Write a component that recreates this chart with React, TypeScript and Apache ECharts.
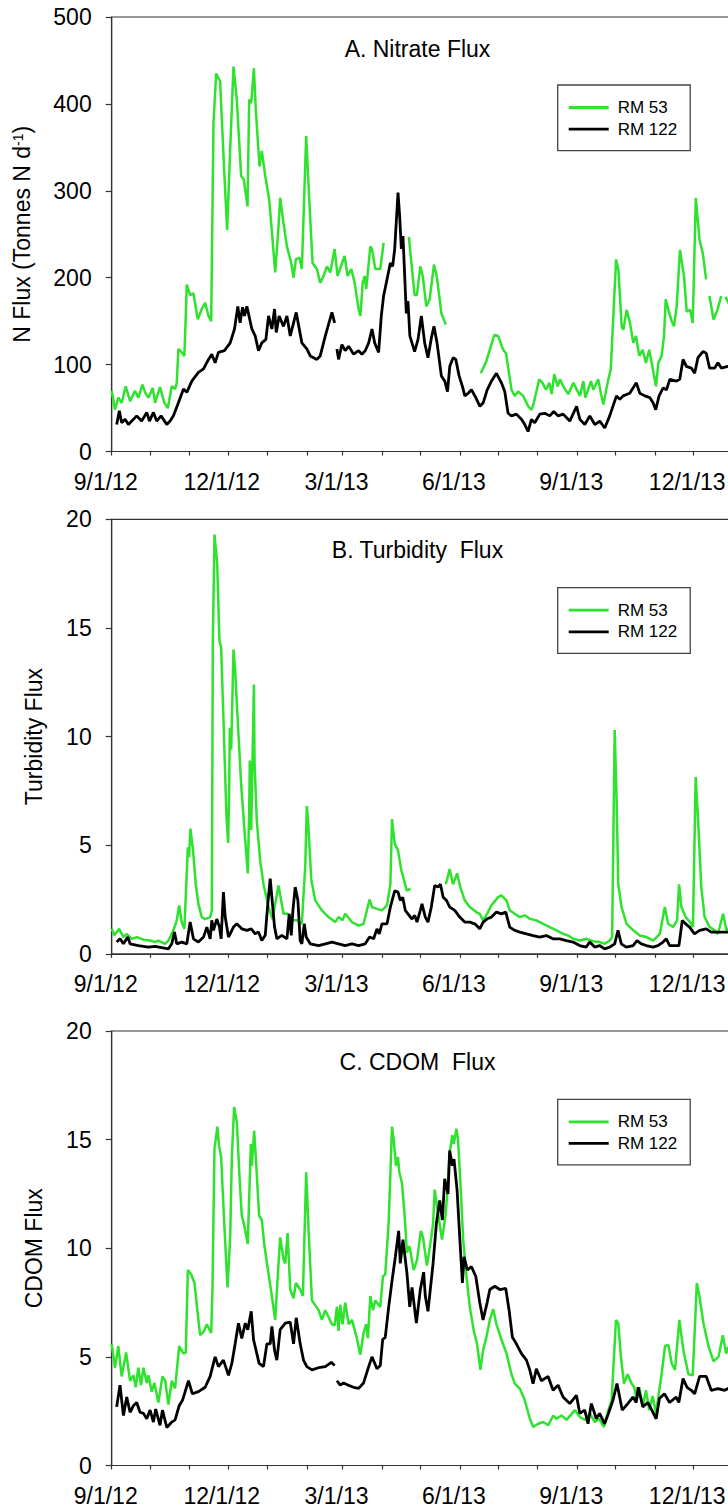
import React, { useEffect, useRef } from 'react';
import * as echarts from 'echarts';

const FONT = "'Liberation Sans', Arial, Helvetica, sans-serif";
const GREEN = '#2ee22e';
const BLACK = '#000000';
const AXIS = '#333333';

// days since 9/1/12
const X_LABEL_DAYS = [0, 91, 181, 273, 365, 456];
const X_LABELS = ['9/1/12', '12/1/12', '3/1/13', '6/1/13', '9/1/13', '12/1/13'];
const MONTH_TICK_DAYS = [0, 30, 61, 91, 122, 153, 181, 212, 242, 273, 303, 334, 365, 395, 426, 456, 487];

const SERIES_NAMES = ['RM 53', 'RM 122'];
const PANEL_TITLES = ['A. Nitrate Flux', 'B. Turbidity  Flux', 'C. CDOM  Flux'];
const Y_TITLES = ['N Flux (Tonnes N d{sup|-1})', 'Turbidity Flux', 'CDOM Flux'];
const Y_MAX = [500, 20, 20];
const Y_STEP = [100, 5, 5];

type P = [number, number | null];

// A. Nitrate flux
const N_RM53: P[] = [
  [0, 70], [2.6, 48], [5.2, 62], [7.8, 56], [11, 75], [14.4, 58], [18.3, 70], [20.9, 62], [24.1, 77], [26.2, 68],
  [28.8, 62], [32.2, 73], [34, 56], [37.9, 74], [41.3, 56], [44, 50], [47.1, 75], [49.7, 72], [51, 79], [52.3, 118],
  [55, 114], [57, 110], [58.9, 192], [61.5, 180], [64.1, 182], [67.5, 152], [70.6, 164], [73.3, 171], [75.9, 156], [78, 150],
  [79.8, 378], [81.9, 435], [85, 426], [88.4, 317], [90.5, 255], [92.9, 348], [95.5, 443], [98.1, 405], [101.5, 317], [103.6, 313],
  [106.5, 282], [107.8, 405], [109.4, 401], [111.5, 441], [113, 393], [115.9, 328], [117.7, 346], [120.4, 317], [123.5, 290], [126.1, 244],
  [128.2, 206], [130.8, 259], [132.1, 292], [134.7, 263], [137.4, 236], [140.8, 217], [142.6, 200], [144.4, 221], [147.3, 223], [149.1, 210],
  [152.5, 363], [154.9, 290], [157.5, 217], [160.9, 210], [163.5, 194], [166.1, 202], [168.8, 213], [171.4, 206], [174.8, 233], [177.1, 202],
  [182.6, 225], [185, 202], [187.9, 210], [190.5, 194], [193.6, 164], [195, 156], [196.8, 194], [198.3, 202], [199.6, 187], [202.8, 236],
  [204.1, 233], [206.7, 210], [210.6, 210], [213.2, 240], [222, null],
  [233, 247], [237.5, 180], [239.3, 180], [242, 213], [244, 201], [246.7, 167], [249.3, 175], [252.7, 215], [255, 201], [258.5, 159],
  [262, 146], [275, null],
  [289.4, 90], [293.3, 102], [295, 110], [300, 134], [303, 133], [307, 117], [309.2, 113], [313.5, 71], [316, 64], [318.7, 69],
  [322.6, 64], [326.6, 52], [329.2, 48], [331, 56], [335.2, 83], [337.8, 79], [340.5, 71], [343.1, 79], [345, 66], [347, 89],
  [349.7, 75], [351.5, 83], [354.1, 75], [358, 66], [362, 79], [367.2, 64], [369.8, 81], [371.4, 62], [375.8, 81], [377.6, 71],
  [381.5, 83], [383.6, 67], [385.5, 54], [389.4, 83], [391.3, 94], [395.5, 221], [397.3, 209], [399.9, 144], [401.2, 140], [403.8, 163],
  [406.4, 148], [409, 125], [411.1, 133], [413.7, 110], [416.3, 117], [418.9, 102], [421.5, 117], [423.4, 102], [426.8, 75], [428.6, 102],
  [431.2, 110], [433.1, 133], [434.4, 175], [436.5, 163], [439.1, 150], [440.9, 144], [443, 167], [445.6, 232], [448.8, 201], [450.9, 161],
  [453.5, 163], [455.6, 148], [458, 292], [460.9, 244], [463.5, 228], [466.1, 198], [467.4, null],
  [468.7, 179], [471.9, 152], [475, 163], [477.9, 179], [479.6, null],
  [481.3, 178], [484, 170], [488, 165],
];
const N_RM122: P[] = [
  [3.9, 31], [6, 47], [7.8, 33], [10.5, 37], [13.1, 31], [17, 37], [19.6, 41], [23.5, 35], [27.5, 45], [29.6, 35],
  [32.7, 45], [35.3, 35], [38.7, 41], [43.2, 31], [45.8, 35], [48.4, 41], [52.3, 56], [56.3, 72], [58.9, 68], [62.8, 81],
  [68, 91], [72, 95], [75.9, 106], [78.5, 112], [81.1, 102], [83.7, 114], [88.4, 116], [92.9, 125], [96.3, 141], [98.9, 167],
  [100.7, 148], [102.6, 166], [104.1, 156], [106, 167], [109.9, 141], [112.5, 133], [115.1, 116], [117.7, 125], [120.9, 129], [123, 156],
  [125.6, 141], [127.7, 164], [129, 137], [131.3, 156], [134.7, 144], [137.4, 156], [140, 133], [144.7, 160], [149.1, 125], [153, 118],
  [155.7, 110], [160.9, 106], [163.5, 110], [167.5, 133], [172.7, 160], [174.8, 148], [175.6, null],
  [176.6, 118], [177.9, 106], [180.5, 123], [183.1, 116], [185.8, 121], [189.7, 112], [193.6, 116], [196.2, 112], [198.8, 116], [201.5, 125],
  [204.1, 141], [206.2, 125], [209.3, 114], [211.4, 156], [213.2, 179], [218.5, 217], [220.3, 213], [221.9, 233], [224.5, 298], [225.8, 271],
  [227.1, 233], [228.4, 248], [231, 159], [232.3, 173], [233.8, 133], [237.5, 115], [240.2, 129], [242.8, 156], [245.4, 125], [248, 108],
  [250.7, 131], [252.7, 144], [255.1, 125], [258.5, 87], [261.2, 81], [263.3, 69], [265.1, 98], [267.7, 108], [269.8, 106], [272.4, 87],
  [275, 75], [276.9, 64], [279.5, 67], [282.1, 71], [285.5, 62], [288.7, 52], [291.3, 56], [294.4, 71], [297.8, 81], [301.7, 90],
  [305.6, 79], [308.2, 69], [310.8, 44], [313.4, 41], [317.3, 43], [321.3, 37], [323.9, 31], [326.5, 23], [329.1, 37], [331.7, 33],
  [335.7, 43], [339.6, 44], [343.5, 41], [346.6, 46], [350, 41], [354, 43], [359.2, 35], [364.5, 52], [367.1, 37], [371, 31],
  [374.9, 41], [378.8, 31], [382.7, 35], [386.6, 27], [390.5, 41], [395.8, 64], [398.4, 60], [401, 64], [406.2, 67], [411.4, 79],
  [414.1, 67], [418, 64], [421.9, 62], [424.5, 56], [426.6, 48], [429.2, 64], [432.3, 73], [435, 71], [437.6, 83], [442.8, 81],
  [445.4, 83], [448, 106], [450.6, 98], [454.5, 96], [457.1, 90], [459.7, 108], [463.6, 115], [466.2, 113], [468.8, 96], [472.8, 96],
  [475.4, 102], [478, 96], [483, 98], [490, 97],
];

// B. Turbidity flux
const T_RM53: P[] = [
  [0, 1.15], [2.1, 0.85], [5.8, 1.15], [9.2, 0.77], [11.8, 0.92], [15.7, 0.69], [19.6, 0.77], [24.9, 0.65], [30.1, 0.61], [34, 0.54],
  [36.6, 0.61], [41.9, 0.46], [44.5, 0.61], [48.4, 1.08], [51, 1.54], [52.9, 2.23], [54.9, 1.46], [57, 1.15], [59.7, 4.9], [60.7, 4.45],
  [61.7, 5.76], [63.8, 4.76], [65.9, 3.2], [68, 2.3], [70.6, 1.69], [73.3, 1.6], [77.2, 1.69], [78.5, 2.0], [79.3, 14.4], [80.6, 19.3],
  [82.7, 18.0], [84.5, 14.4], [85.8, 14.1], [87.9, 10.3], [90, 6.3], [91.3, 5.1], [92.1, 7.5], [92.6, 10.4], [93.7, 9.4], [95.5, 14.0],
  [96.8, 13.1], [98.4, 11.2], [101.5, 7.8], [104.1, 5.7], [106.7, 3.7], [107.8, 6.5], [108.3, 8.9], [109.4, 5.7], [111.5, 12.4], [112, 8.8],
  [113.8, 6.1], [116.4, 4.3], [119, 3.2], [123, 2.15], [126.1, 1.6], [128.7, 2.46], [130.8, 3.15], [134.7, 1.84], [138.1, 1.84], [141.3, 1.54],
  [145.2, 1.54], [149.1, 1.38], [151.8, 4.1], [153, 6.8], [154.1, 6.0], [156.5, 3.4], [159.6, 2.46], [164.8, 2.0], [170, 1.69], [175.3, 1.46],
  [177.9, 1.69], [181, 1.54], [183.1, 1.84], [188.4, 1.46], [193.6, 1.3], [197.5, 1.38], [202.2, 2.5], [204.1, 2.15], [208, 2.07], [211.9, 2.0],
  [215.9, 2.23], [218.5, 3.2], [219.8, 6.2], [221.9, 5.07], [224.5, 4.76], [227.1, 3.84], [228.9, 3.46], [231.5, 2.9], [234.2, 3.0], [240, null],
  [262, 3.2], [265, 3.9], [267.6, 3.2], [270.8, 3.7], [273.4, 3.07], [276.8, 2.46], [280.7, 2.15], [285.9, 1.92], [288.6, 1.84], [291.2, 1.54],
  [294.3, 1.84], [297.7, 2.23], [303, 2.61], [305.6, 2.69], [309.5, 2.46], [312.1, 2.0], [316, 1.84], [320, 1.69], [323.9, 1.77], [327.8, 1.61],
  [333, 1.54], [338.3, 1.38], [343.5, 1.23], [348.7, 1.08], [354, 0.92], [357.9, 0.84], [361.8, 0.69], [367, 0.61], [372.3, 0.69], [377.5, 0.58],
  [382.7, 0.54], [386.6, 0.46], [390.5, 0.61], [392.4, 0.77], [394.4, 10.3], [395.9, 7.1], [397.2, 3.2], [399.8, 2.15], [403.7, 1.38], [408.9, 1.08],
  [414.1, 0.84], [419.4, 0.77], [424.6, 0.61], [429.8, 0.92], [433.7, 2.15], [436.3, 1.38], [440.2, 1.23], [443.3, 1.54], [444.9, 3.2], [446.7, 2.15],
  [450.1, 1.69], [454.5, 1.38], [455.8, 1.23], [457.9, 8.14], [459.7, 6.3], [462.3, 3.07], [464.9, 1.69], [468.9, 1.23], [472.8, 1.08], [475.4, 0.92],
  [479.4, 1.84], [482, 1.08], [483, 1.15], [490, 1.1],
];
const T_RM122: P[] = [
  [3.9, 0.54], [6.5, 0.69], [9.2, 0.46], [12.6, 0.77], [14.4, 0.46], [20.9, 0.38], [28.8, 0.31], [34, 0.34], [39.2, 0.28], [44.5, 0.23],
  [47.1, 0.46], [49.2, 1.0], [51, 0.46], [54.9, 0.54], [58.9, 0.46], [61.5, 1.46], [64.1, 0.69], [68, 0.54], [72, 0.77], [74.6, 1.23],
  [77.2, 0.69], [78.5, 1.54], [79.8, 1.08], [82.4, 1.6], [84.5, 1.23], [85.8, 0.69], [87.6, 2.84], [89, 1.69], [91.6, 0.77], [95.5, 1.23],
  [98.1, 1.38], [102, 1.15], [106, 1.08], [109.4, 1.15], [112.5, 0.92], [115.1, 1.0], [117.7, 0.61], [120.4, 0.85], [122.4, 2.3], [124.3, 3.46],
  [125.6, 2.6], [127.7, 1.23], [129.5, 0.69], [133.4, 0.85], [137.4, 0.69], [139.2, 1.84], [140.8, 0.85], [142.1, 2.0], [143.9, 3.07], [146, 2.46],
  [147.8, 0.61], [149.1, 0.46], [151, 1.38], [152.5, 0.77], [155.7, 0.46], [162.2, 0.38], [167.5, 0.46], [172.7, 0.54], [177.9, 0.46], [183.1, 0.38],
  [188.4, 0.46], [193.6, 0.38], [198.8, 0.46], [202.2, 0.77], [205.4, 0.69], [208, 1.15], [209.8, 0.92], [211.9, 1.38], [215.9, 1.38], [218.5, 2.15],
  [221.9, 2.9], [224.5, 2.84], [226.3, 2.46], [228.2, 2.6], [230.2, 2.0], [232.3, 1.84], [235.5, 1.6], [237.6, 1.77], [239.4, 1.46], [242, 2.0],
  [243.3, 2.3], [245.9, 1.69], [248, 1.46], [250.6, 2.15], [253.3, 3.15], [255.9, 3.07], [257.8, 3.2], [259.9, 2.6], [262.5, 2.46], [265.1, 2.15],
  [269, 2.0], [272.9, 1.69], [276.8, 1.46], [280.8, 1.46], [284.7, 1.38], [288.6, 1.15], [291.3, 1.46], [294.4, 1.61], [297.8, 1.69], [301.7, 1.92],
  [305.6, 1.84], [309, 1.92], [312.1, 1.23], [316, 1.08], [320, 1.0], [325.2, 0.92], [330.4, 0.84], [335.6, 0.77], [340.8, 0.84], [346, 0.69],
  [351.3, 0.69], [356.5, 0.61], [361.7, 0.54], [366.9, 0.38], [372.1, 0.31], [374.8, 0.54], [378.7, 0.31], [382.6, 0.38], [386.5, 0.23], [390.5, 0.31],
  [394.4, 0.46], [397, 1.08], [399.6, 0.46], [403.5, 0.31], [408.8, 0.38], [411.9, 0.61], [415.3, 0.46], [419.2, 0.38], [424.4, 0.31], [428.3, 0.38],
  [432.3, 0.54], [434.9, 0.69], [437.5, 0.38], [441.4, 0.38], [444.8, 0.38], [447.4, 1.54], [450, 1.38], [453.1, 1.23], [457, 0.92], [461, 1.08],
  [466.2, 1.15], [470.1, 1.0], [474, 1.0], [483, 1.0], [490, 1.0],
];

// C. CDOM flux
const C_RM53: P[] = [
  [0, 5.6], [2.6, 4.5], [5.2, 5.5], [7.8, 4.1], [11.3, 5.2], [14.4, 3.9], [17, 4.15], [18.8, 3.6], [20.9, 4.5], [23, 3.7],
  [24.9, 4.5], [27.5, 3.8], [28.8, 4.15], [31.4, 3.4], [33.5, 3.8], [36.6, 2.9], [39.8, 4.1], [41.9, 3.9], [44.5, 2.8], [47.1, 3.9],
  [49.7, 3.55], [52.9, 5.5], [56.3, 5.15], [58.1, 5.2], [59.7, 9.0], [62.3, 8.8], [64.9, 8.4], [69.3, 6.0], [72, 6.15], [74.6, 6.5],
  [78, 6.1], [79, 8.1], [80.6, 14.6], [82.9, 15.6], [84.2, 14.7], [85.8, 14.2], [88.2, 11.2], [90.8, 8.2], [92.9, 10.5], [94.2, 14.2],
  [96, 16.5], [98.1, 15.8], [100.2, 13.3], [102, 11.5], [104.1, 11.0], [106.7, 10.2], [108, 12.7], [109.1, 14.8], [109.9, 13.8], [111.7, 15.4],
  [113, 14.2], [115.6, 11.5], [117.7, 11.3], [119.8, 10.1], [124.8, 8.1], [128.2, 6.7], [130.8, 9.3], [132.1, 10.5], [134.7, 9.5], [136.1, 9.3],
  [137.9, 10.7], [140, 8.1], [142.6, 7.7], [144.4, 8.4], [147.8, 8.1], [149.9, 7.8], [152.5, 13.5], [154.4, 10.8], [157, 7.6], [162.2, 7.15],
  [164.8, 6.7], [167.5, 7.15], [172.7, 6.5], [174.8, 6.45], [176.6, 7.3], [177.9, 6.2], [179.2, 7.4], [181, 6.5], [183.1, 7.5], [185.8, 6.5],
  [188.4, 6.7], [192.3, 5.85], [194.9, 5.1], [197.5, 6.1], [199.4, 6.5], [200.9, 5.85], [202.8, 7.8], [204.9, 7.15], [206.7, 7.6], [210.6, 7.3],
  [212.7, 8.7], [214.5, 8.8], [217.2, 11.2], [219.8, 15.6], [221.1, 15.0], [222.9, 13.8], [224.5, 14.2], [225.5, 13.5], [227.6, 13.0], [229.7, 11.5],
  [231.5, 9.8], [233.4, 10.1], [236.8, 9.0], [239.4, 9.45], [242.4, 10.8], [244.1, 10.5], [247.2, 9.2], [250.6, 10.5], [252, 11.15], [253.3, 12.7],
  [255.9, 11.6], [259, 10.4], [261.7, 11.5], [263, 12.4], [265, 14.4], [267.1, 15.2], [268.2, 14.8], [270.3, 15.5], [271.6, 15.0], [273.7, 12.7],
  [275.6, 10.4], [278.2, 8.7], [280.8, 7.3], [283.9, 6.2], [286.5, 5.6], [289.1, 4.4], [291.2, 5.3], [293.8, 5.9], [296.5, 6.7], [299.1, 7.2],
  [301.7, 6.5], [305.6, 5.8], [309.6, 5.15], [313.5, 4.2], [316.1, 3.77], [320, 3.54], [323.9, 3.0], [327.9, 2.15], [330.5, 1.77], [334.4, 1.92],
  [338.3, 2.0], [342.3, 1.85], [346.2, 2.3], [348.8, 2.15], [352.7, 2.3], [356.7, 2.1], [363.2, 2.55], [367.1, 2.23], [371.1, 2.1], [375, 2.4],
  [378.9, 2.0], [382.3, 2.15], [386, 1.77], [389.4, 2.55], [392, 3.0], [395.4, 6.7], [397.2, 6.55], [399.3, 5.0], [401.7, 3.77], [404.5, 4.2],
  [407.7, 3.77], [409.8, 3.6], [411.6, 3.0], [413.7, 3.6], [416.3, 2.7], [418.9, 3.46], [421.5, 2.55], [424.1, 3.2], [426.8, 2.4], [429.3, 3.46],
  [431.2, 4.2], [433.9, 5.5], [436.5, 5.55], [439.1, 4.7], [441.7, 4.4], [445.1, 6.7], [448.3, 5.3], [452.2, 4.2], [455.6, 4.15], [458.8, 8.4],
  [460.8, 7.8], [464, 6.55], [467.9, 5.5], [471.8, 4.8], [475.8, 5.0], [479.2, 6.0], [481.8, 5.15], [483.4, 5.45], [490, 5.0],
];
const C_RM122: P[] = [
  [3.9, 2.7], [6.5, 3.7], [9.2, 2.3], [11.8, 3.15], [14.4, 2.45], [17, 2.75], [19.6, 2.9], [22.2, 2.45], [24.9, 2.4], [27.5, 2.15],
  [30.1, 2.55], [32.7, 2.0], [34.5, 2.6], [37.9, 1.85], [39.8, 2.55], [43.2, 1.75], [47.1, 2.0], [49.7, 2.1], [52.9, 2.75], [55.5, 3.0],
  [57.6, 3.4], [60.2, 3.9], [63.3, 3.3], [68, 3.4], [73.3, 3.6], [77.2, 4.1], [81.1, 5.0], [83.7, 4.55], [87.6, 4.85], [91.6, 4.15],
  [94.2, 4.7], [96.8, 5.6], [99.4, 6.55], [102, 5.85], [104.7, 6.55], [106.7, 6.25], [109.4, 7.1], [111.2, 5.8], [115.6, 4.7], [119, 4.55],
  [121.7, 5.6], [124.3, 5.6], [125.6, 6.4], [127.7, 5.3], [129.5, 4.85], [132.1, 6.25], [136.1, 6.55], [140, 6.6], [142.6, 5.6], [144.7, 6.8],
  [147.8, 5.6], [150.4, 4.85], [153, 4.55], [157, 4.4], [162.2, 4.5], [167.5, 4.55], [172.2, 4.75], [174.8, 4.6], [175.7, null],
  [176.6, 3.9], [179.2, 3.7], [181.8, 3.8], [185.2, 3.7], [189.7, 3.6], [193.6, 3.55], [197.5, 3.8], [201.5, 4.55], [204.1, 5.0], [208, 4.45],
  [210.6, 4.6], [212.5, 5.8], [214.5, 5.9], [217.2, 7.3], [219.8, 8.5], [222.4, 9.6], [225, 10.8], [226.3, 9.3], [228.4, 10.4], [231.5, 8.85],
  [233.7, 7.3], [235.5, 8.2], [238.9, 6.55], [242, 8.1], [244.6, 8.9], [245.9, 7.8], [248, 7.1], [252, 9.3], [254.6, 11.15], [257.2, 12.2],
  [259.3, 11.3], [261.1, 13.2], [263.7, 12.5], [265, 14.5], [267.1, 13.8], [268.4, 14.1], [270.8, 12.7], [272.9, 10.5], [275, 8.4], [276.3, 9.6],
  [278.9, 9.0], [282.1, 9.15], [285.5, 8.7], [288.6, 7.5], [291.2, 6.7], [294.4, 7.5], [296.5, 8.1], [300.4, 8.25], [304.3, 8.1], [309, 8.15],
  [311.6, 7.15], [314.2, 5.9], [317.3, 5.6], [321.3, 5.15], [325.2, 4.85], [327.8, 4.4], [330.4, 3.77], [333, 4.45], [336.9, 3.9], [342.2, 4.1],
  [346.1, 3.46], [350, 3.7], [353.9, 3.15], [359.2, 2.85], [364.4, 3.23], [367, 2.4], [370.9, 2.55], [373.5, 1.92], [376.1, 2.85], [380, 2.15],
  [382.6, 2.4], [386.5, 1.92], [389.9, 2.46], [393, 3.0], [396.2, 3.77], [400.3, 2.55], [404.7, 2.85], [408.7, 3.15], [411.3, 2.9], [412.8, 3.6],
  [416.5, 2.7], [420.4, 2.9], [424.3, 2.46], [426.9, 2.15], [429.5, 3.08], [433.4, 3.3], [437.4, 2.9], [442.6, 3.15], [444.7, 2.9], [448, 4.0],
  [451.1, 3.6], [454.5, 3.46], [457.1, 3.3], [461, 4.1], [466.2, 4.1], [470.1, 3.46], [475.4, 3.54], [480.6, 3.46], [483.2, 3.54], [490, 3.5],
];

const PANEL_DATA: [P[], P[]][] = [
  [N_RM53, N_RM122],
  [T_RM53, T_RM122],
  [C_RM53, C_RM122],
];

// layout (px)
const GRID_TOPS = [17, 519.3, 1031];
const GRID_H = 434.5;
const GRID_LEFT = 111.7;
const GRID_W = 636;
const X_MAX = 498.7;
const TITLE_TOPS = [37, 538.5, 1050.5];
const LEGEND_TOPS = [85, 587.7, 1099.3];
const NAME_GAPS = [78, 66, 66];

export default function App() {
  const ref = useRef<HTMLDivElement>(null);

  useEffect(() => {
    if (!ref.current) return;
    const chart = echarts.init(ref.current, undefined, { renderer: 'svg' });

    const grids = GRID_TOPS.map((top) => ({
      left: GRID_LEFT,
      width: GRID_W,
      top,
      height: GRID_H,
      containLabel: false,
      outerBoundsMode: 'none',
      show: true,
      borderColor: AXIS,
      borderWidth: 1.2,
      backgroundColor: 'transparent',
    }));

    const xAxes = GRID_TOPS.map((_, i) => ({
      type: 'value',
      gridIndex: i,
      min: 0,
      max: X_MAX,
      splitLine: { show: false },
      axisLine: { show: true, onZero: false, lineStyle: { color: AXIS, width: 1.2 } },
      axisTick: {
        show: true,
        inside: false,
        length: 4,
        customValues: MONTH_TICK_DAYS,
        lineStyle: { color: AXIS, width: 1.2 },
      },
      axisLabel: {
        show: true,
        customValues: X_LABEL_DAYS,
        margin: 19,
        fontSize: 23,
        fontFamily: FONT,
        color: '#000',
        padding: [0, 12, 0, 0],
        formatter: (v: number) => {
          const k = X_LABEL_DAYS.indexOf(Math.round(v));
          return k >= 0 ? X_LABELS[k] : '';
        },
      },
    }));

    const yAxes = GRID_TOPS.map((_, i) => ({
      type: 'value',
      gridIndex: i,
      min: 0,
      max: Y_MAX[i],
      interval: Y_STEP[i],
      name: Y_TITLES[i],
      nameLocation: 'middle',
      nameGap: NAME_GAPS[i],
      nameTextStyle: {
        fontSize: 23,
        fontFamily: FONT,
        color: '#000',
        rich: { sup: { fontSize: 14, fontFamily: FONT, color: '#000', verticalAlign: 'top', padding: [0, 0, 6, 0] } },
      },
      splitLine: { show: false },
      axisLine: { show: true, onZero: false, lineStyle: { color: AXIS, width: 1.2 } },
      axisTick: { show: true, inside: false, length: 6, lineStyle: { color: AXIS, width: 1.2 } },
      axisLabel: { margin: 20, fontSize: 23, fontFamily: FONT, color: '#000' },
    }));

    const series: any[] = [];
    PANEL_DATA.forEach(([g, b], i) => {
      series.push({
        type: 'line', name: SERIES_NAMES[0], xAxisIndex: i, yAxisIndex: i, data: g,
        symbol: 'none', showSymbol: false, connectNulls: false,
        lineStyle: { color: GREEN, width: 2.5 }, itemStyle: { color: GREEN }, z: 2,
      });
      series.push({
        type: 'line', name: SERIES_NAMES[1], xAxisIndex: i, yAxisIndex: i, data: b,
        symbol: 'none', showSymbol: false, connectNulls: false,
        lineStyle: { color: BLACK, width: 2.8 }, itemStyle: { color: BLACK }, z: 3,
      });
    });

    const legends = LEGEND_TOPS.map((top) => ({
      data: SERIES_NAMES,
      orient: 'vertical',
      left: 557.7,
      top,
      icon: 'rect',
      itemWidth: 40,
      itemHeight: 2.8,
      itemGap: 4.6,
      padding: [14, 13, 13, 11],
      borderColor: '#444',
      borderWidth: 1.3,
      backgroundColor: '#fff',
      selectedMode: false,
      textStyle: { fontSize: 17, lineHeight: 17, fontFamily: FONT, color: '#000', padding: [0, 0, 0, 4] },
    }));

    const titles = PANEL_TITLES.map((text, i) => ({
      text,
      left: 417.5,
      top: TITLE_TOPS[i],
      textAlign: 'center',
      padding: 0,
      textStyle: { fontSize: 23, fontWeight: 'normal', fontFamily: FONT, color: '#000' },
    }));

    chart.setOption({
      animation: false,
      backgroundColor: '#fff',
      title: titles,
      legend: legends,
      grid: grids,
      xAxis: xAxes,
      yAxis: yAxes,
      series,
    } as any);

    return () => chart.dispose();
  }, []);

  return (
    <div
      ref={ref}
      style={{ position: 'absolute', left: 0, top: 0, width: 728, height: 1510, background: '#fff', overflow: 'hidden' }}
    />
  );
}
